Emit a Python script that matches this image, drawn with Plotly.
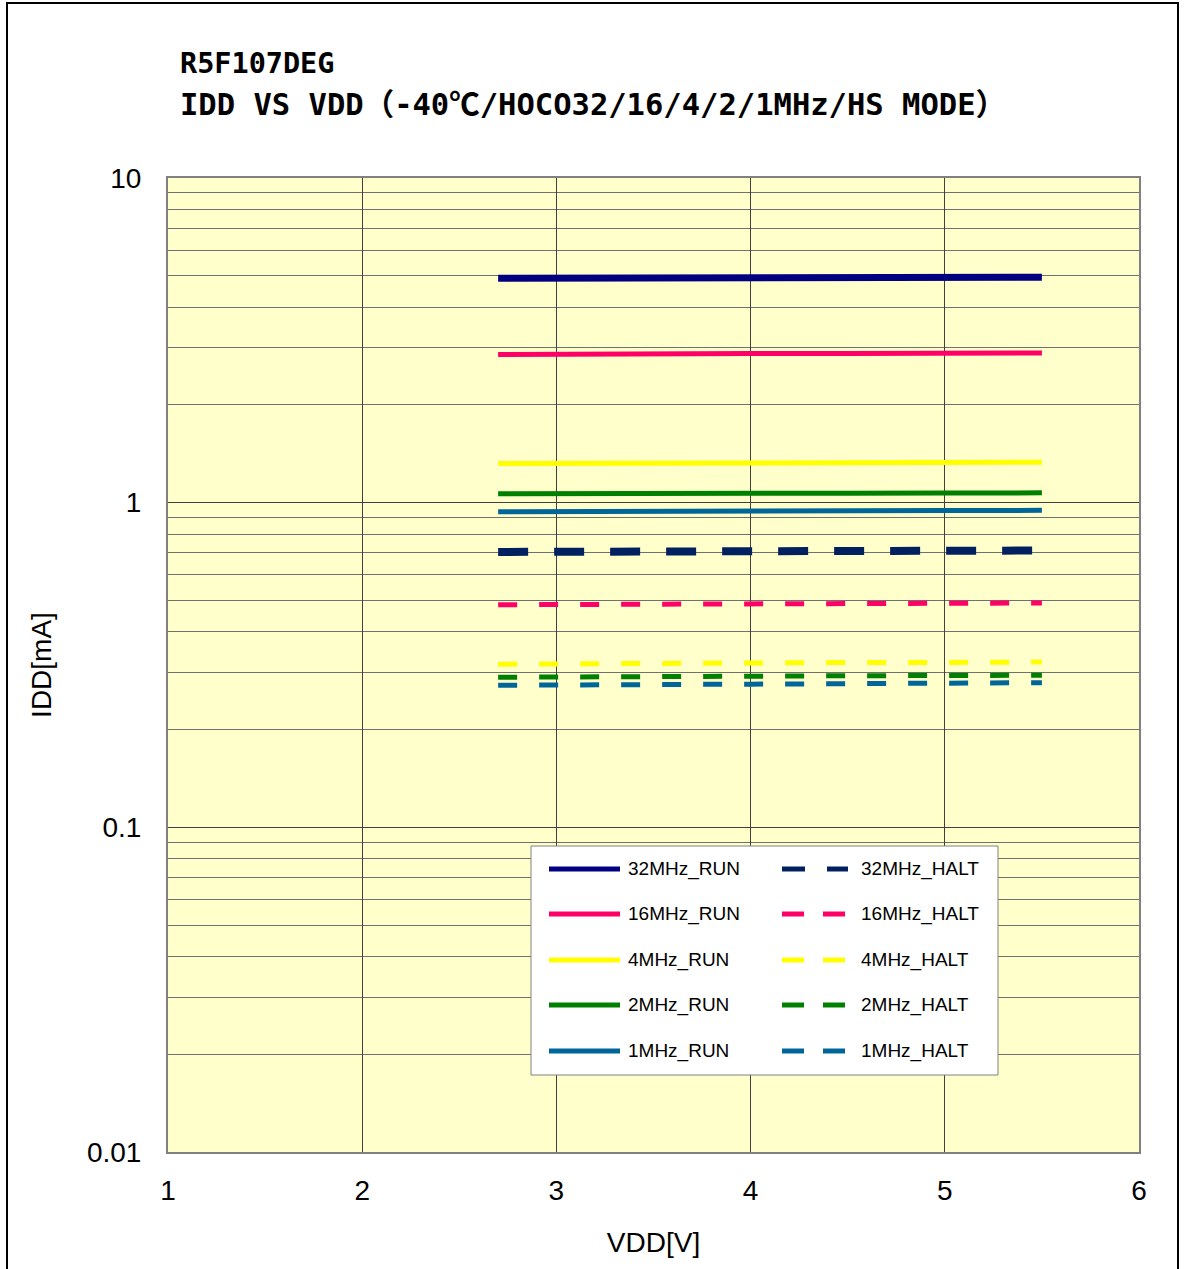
import plotly.graph_objects as go

# Supply voltage sweep (V)
vdd = [2.7, 3.0, 3.5, 4.0, 4.5, 5.0, 5.5]

# Supply current (mA) per clock / operating mode
series_names = [
    "32MHz_RUN", "32MHz_HALT",
    "16MHz_RUN", "16MHz_HALT",
    "4MHz_RUN", "4MHz_HALT",
    "2MHz_RUN", "2MHz_HALT",
    "1MHz_RUN", "1MHz_HALT",
]
idd_32_run = [4.91, 4.92, 4.92, 4.93, 4.93, 4.94, 4.95]
idd_32_halt = [0.705, 0.707, 0.708, 0.709, 0.710, 0.711, 0.712]
idd_16_run = [2.86, 2.87, 2.87, 2.88, 2.88, 2.89, 2.89]
idd_16_halt = [0.485, 0.486, 0.487, 0.488, 0.489, 0.490, 0.491]
idd_4_run = [1.320, 1.322, 1.324, 1.326, 1.328, 1.330, 1.332]
idd_4_halt = [0.318, 0.319, 0.320, 0.321, 0.322, 0.322, 0.323]
idd_2_run = [1.065, 1.067, 1.068, 1.069, 1.070, 1.071, 1.072]
idd_2_halt = [0.290, 0.291, 0.292, 0.292, 0.293, 0.293, 0.294]
idd_1_run = [0.938, 0.940, 0.941, 0.943, 0.944, 0.946, 0.947]
idd_1_halt = [0.274, 0.275, 0.276, 0.276, 0.277, 0.278, 0.279]

series_values = [
    idd_32_run, idd_32_halt,
    idd_16_run, idd_16_halt,
    idd_4_run, idd_4_halt,
    idd_2_run, idd_2_halt,
    idd_1_run, idd_1_halt,
]

colors = [
    "#000080", "#002060",
    "#FF0066", "#FF0066",
    "#FFFF00", "#FFFF00",
    "#008000", "#008000",
    "#006699", "#006699",
]
widths = [7, 8, 5, 5, 5, 5, 5, 5, 5, 5]
dashes = [
    "solid", "30px,26px",
    "solid", "19px,22px",
    "solid", "19px,22px",
    "solid", "19px,22px",
    "solid", "19px,22px",
]

x_ticks = [1, 2, 3, 4, 5, 6]
y_ticks = [0.01, 0.1, 1, 10]
y_tick_text = ["0.01", "0.1", "1", "10"]
y_minor = [m * d for d in [0.01, 0.1, 1] for m in range(2, 10)]

fig = go.Figure()
for name, vals, col, w, dsh in zip(series_names, series_values, colors, widths, dashes):
    fig.add_trace(go.Scatter(
        x=vdd, y=vals, name=name, mode="lines",
        line=dict(color=col, width=w, dash=dsh),
        showlegend=False,
    ))

W, H = 1184, 1269
L, R, T, B = 168, 45, 178, 117
pw, ph = W - L - R, H - T - B


def px_x(px):
    return (px - L) / pw


def px_y(py):
    return (H - B - py) / ph


shapes = []
annotations = []

# outer frame around the whole figure
shapes.append(dict(type="rect", xref="paper", yref="paper",
                   x0=px_x(7), x1=px_x(1178), y0=px_y(1290), y1=px_y(3),
                   line=dict(color="black", width=2), fillcolor="rgba(0,0,0,0)", layer="above"))

# legend box, two columns (RUN | HALT)
shapes.append(dict(type="rect", xref="paper", yref="paper",
                   x0=px_x(531), x1=px_x(998), y0=px_y(1075), y1=px_y(846),
                   line=dict(color="#808080", width=1), fillcolor="white", layer="above"))
row_y = [869, 914, 960, 1005, 1051]
for i, (name, col, w, dsh) in enumerate(zip(series_names, colors, widths, dashes)):
    row, colm = i // 2, i % 2
    yy = px_y(row_y[row])
    if colm == 0:
        shapes.append(dict(type="line", xref="paper", yref="paper",
                           x0=px_x(549), x1=px_x(620), y0=yy, y1=yy,
                           line=dict(color=col, width=5), layer="above"))
        tx = 626
    else:
        if row == 0:
            segs = [(782, 805), (827, 848)]
        else:
            segs = [(782, 804), (823, 845)]
        for a, b in segs:
            shapes.append(dict(type="line", xref="paper", yref="paper",
                               x0=px_x(a), x1=px_x(b), y0=yy, y1=yy,
                               line=dict(color=col, width=5), layer="above"))
        tx = 859
    annotations.append(dict(xref="paper", yref="paper", x=px_x(tx), y=yy,
                            xanchor="left", yanchor="middle", showarrow=False,
                            text=name, font=dict(family="Liberation Sans, Arial", size=19, color="black")))

# chart title (two lines), monospaced face
title_family = "DejaVu Sans Mono, Noto Sans CJK JP, monospace"
annotations.append(dict(xref="paper", yref="paper", x=px_x(178), y=px_y(63),
                        xanchor="left", yanchor="middle", showarrow=False,
                        text="R5F107DEG",
                        font=dict(family=title_family, size=28.5, color="black", weight="bold")))
annotations.append(dict(xref="paper", yref="paper", x=px_x(178), y=px_y(104),
                        xanchor="left", yanchor="middle", showarrow=False,
                        text="IDD VS VDD（-40℃/HOCO32/16/4/2/1MHz/HS MODE）",
                        font=dict(family=title_family, size=30.5, color="black", weight="bold")))

axis_font = dict(family="Liberation Sans, Arial", size=28, color="black")

fig.update_layout(
    width=W, height=H,
    margin=dict(l=L, r=R, t=T, b=B),
    paper_bgcolor="white",
    plot_bgcolor="#FFFFCC",
    showlegend=False,
    shapes=shapes,
    annotations=annotations,
    xaxis=dict(
        range=[1, 6], tickvals=x_ticks, ticktext=[str(v) for v in x_ticks],
        showgrid=True, gridcolor="#404040", gridwidth=1,
        showline=True, linecolor="#808080", linewidth=2, mirror=True,
        ticks="", tickfont=axis_font, ticklabelstandoff=12,
        title=dict(text="VDD[V]", font=axis_font, standoff=28),
        zeroline=False,
    ),
    yaxis=dict(
        type="log", range=[-2, 1], tickvals=y_ticks, ticktext=y_tick_text,
        showgrid=True, gridcolor="#404040", gridwidth=1,
        minor=dict(tickvals=y_minor, showgrid=True, gridcolor="#707070", gridwidth=1, ticks=""),
        showline=True, linecolor="#808080", linewidth=2, mirror=True,
        ticks="", tickfont=axis_font, ticklabelstandoff=19,
        title=dict(text="IDD[mA]", font=axis_font, standoff=27),
        zeroline=False,
    ),
)

fig.write_html("out.html")
